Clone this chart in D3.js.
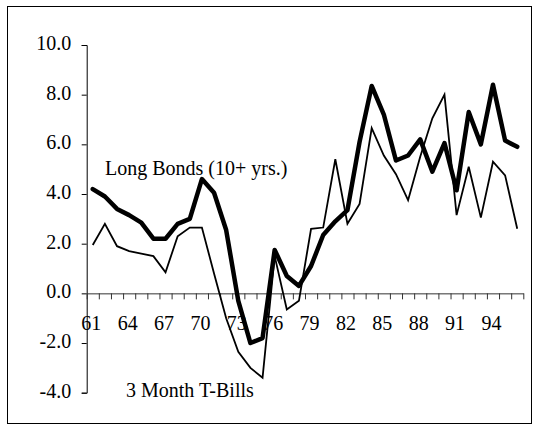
<!DOCTYPE html>
<html>
<head>
<meta charset="utf-8">
<script src="https://cdn.jsdelivr.net/npm/d3@7"></script>
<style>
  html, body { margin: 0; padding: 0; background: #fff; }
  svg { display: block; }
  text { font-family: "Liberation Serif", "Times New Roman", serif; font-size: 20px; fill: #000; }
</style>
</head>
<body>
<svg id="chart" width="538" height="429"></svg>
<script>
// ---- data ----
const years = ["61","62","63","64","65","66","67","68","69","70","71","72","73","74","75","76","77","78","79","80","81","82","83","84","85","86","87","88","89","90","91","92","93","94","95","96"];
const longBonds = [4.2, 3.9, 3.4, 3.15, 2.85, 2.2, 2.2, 2.8, 3.0, 4.6, 4.05, 2.55, -0.3, -2.0, -1.8, 1.75, 0.7, 0.3, 1.1, 2.35, 2.9, 3.35, 6.1, 8.35, 7.2, 5.35, 5.55, 6.2, 4.9, 6.05, 4.15, 7.3, 6.0, 8.4, 6.15, 5.9];
const tBills = [1.95, 2.8, 1.9, 1.7, 1.6, 1.5, 0.85, 2.3, 2.65, 2.65, 0.8, -1.0, -2.35, -3.0, -3.4, 1.5, -0.65, -0.3, 2.6, 2.65, 5.4, 2.8, 3.6, 6.65, 5.55, 4.8, 3.75, 5.5, 7.05, 8.0, 3.15, 5.1, 3.05, 5.3, 4.75, 2.6];
const yTicks = [-4, -2, 0, 2, 4, 6, 8, 10];
const xLabels = ["61","64","67","70","73","76","79","82","85","88","91","94"];
const seriesNames = ["Long Bonds (10+ yrs.)", "3 Month T-Bills"];

// ---- layout ----
const svg = d3.select("#chart");
const mLeft = 86.7, mRight = 523.3, mTop = 45, mBottom = 392.7;
const serif = '"Liberation Serif", "Times New Roman", serif';

const x = d3.scaleBand().domain(years).range([mLeft, mRight]).padding(0);
const xEdge = d3.scaleLinear().domain([0, years.length]).range([mLeft, mRight]);
const y = d3.scaleLinear().domain([-4, 10]).range([mBottom, mTop]);

// frame
svg.append("rect")
  .attr("x", 7.5).attr("y", 6.5)
  .attr("width", 524).attr("height", 417)
  .attr("fill", "none").attr("stroke", "#000").attr("stroke-width", 1);

// y axis
const yAxis = svg.append("g")
  .attr("transform", `translate(${mLeft},0)`)
  .call(d3.axisLeft(y).tickValues(yTicks).tickSize(5).tickPadding(10.5).tickFormat(d => d.toFixed(1)))
  .attr("font-family", serif).attr("font-size", 20);
yAxis.selectAll("text").attr("dy", "4.5");
yAxis.select(".domain").attr("stroke", "#000");

// x axis (ticks at category boundaries)
const xAxis = svg.append("g")
  .attr("transform", `translate(0,${y(0)})`)
  .call(d3.axisBottom(xEdge).tickValues(d3.range(0, years.length + 1)).tickSize(6).tickSizeOuter(0).tickFormat(""));
xAxis.select(".domain").attr("stroke", "#333");
xAxis.selectAll(".tick line").attr("stroke", "#333");

// x labels
const xLab = svg.append("g")
  .attr("transform", `translate(-1.5,${y(0)})`)
  .call(d3.axisBottom(x).tickValues(xLabels).tickSize(0).tickPadding(0))
  .attr("font-family", serif).attr("font-size", 20);
xLab.select(".domain").remove();
xLab.selectAll("text").attr("y", 0).attr("dy", "36.5");

// lines
const line = d3.line()
  .x((d, i) => x(years[i]) + x.bandwidth() / 2)
  .y(d => y(d));

svg.append("path").datum(tBills)
  .attr("d", line).attr("fill", "none").attr("stroke", "#000")
  .attr("stroke-width", 1.8).attr("stroke-linejoin", "miter");

svg.append("path").datum(longBonds)
  .attr("d", line).attr("fill", "none").attr("stroke", "#000")
  .attr("stroke-width", 4.5).attr("stroke-linejoin", "round").attr("stroke-linecap", "round");

// series labels
svg.append("text").attr("x", 105).attr("y", 175).text(seriesNames[0]);
svg.append("text").attr("x", 126).attr("y", 397).text(seriesNames[1]);
</script>
</body>
</html>
